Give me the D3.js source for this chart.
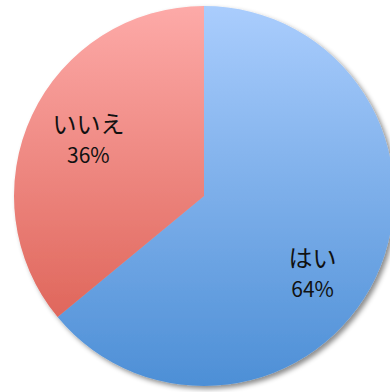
<!DOCTYPE html>
<html>
<head>
<meta charset="utf-8">
<style>
  body { margin: 0; background: #fff; }
  svg { display: block; }
  text { font-family: "Noto Sans CJK JP", "Noto Sans", sans-serif; fill: #111; }
</style>
<script src="https://d3js.org/d3.v7.min.js"></script>
</head>
<body>
<svg id="chart" width="390" height="392"></svg>
<script>
  // data
  var categories = ["はい", "いいえ"]
  var values = [64, 36]
  var topColors = ["#aacdfd", "#fdaaa8"]
  var bottomColors = ["#4d8fd6", "#d9584b"]

  var svg = d3.select("#chart"),
      cx = 204, cy = 196, r = 190

  var defs = svg.append("defs")

  // soft shadow under the pie
  var f = defs.append("filter")
              .attr("id", "shadow")
              .attr("x", "-10%").attr("y", "-10%")
              .attr("width", "120%").attr("height", "120%")
  f.append("feDropShadow")
   .attr("dx", 3).attr("dy", 3)
   .attr("stdDeviation", 2.5)
   .attr("flood-color", "#000")
   .attr("flood-opacity", 0.45)

  // vertical gradient per slice, spanning the whole pie
  categories.forEach(function(c, i){
    var g = defs.append("linearGradient")
                .attr("id", "grad" + i)
                .attr("gradientUnits", "userSpaceOnUse")
                .attr("x1", 0).attr("x2", 0)
                .attr("y1", -r).attr("y2", r)
    g.append("stop").attr("offset", "0%").attr("stop-color", topColors[i])
    g.append("stop").attr("offset", "100%").attr("stop-color", bottomColors[i])
  })

  var pie = d3.pie().sort(null).value(function(d){ return d })
  var arcs = pie(values)
  var total = d3.sum(values)

  var arc = d3.arc().innerRadius(0).outerRadius(r)
  var labelArc = d3.arc().innerRadius(r * 0.69).outerRadius(r * 0.69)

  var g = svg.append("g")
             .attr("transform", "translate(" + cx + "," + cy + ")")

  g.append("g")
   .attr("filter", "url(#shadow)")
   .selectAll("path")
   .data(arcs)
   .join("path")
   .attr("d", arc)
   .attr("fill", function(d, i){ return "url(#grad" + i + ")" })

  // label nudges (Excel best-fit placement)
  var nudge = [[-10, 20], [3, -2]]

  var labels = g.selectAll("text.lbl")
                .data(arcs)
                .join("text")
                .attr("class", "lbl")
                .attr("text-anchor", "middle")
                .attr("transform", function(d, i){
                  var p = labelArc.centroid(d)
                  return "translate(" + (p[0] + nudge[i][0]) + "," + (p[1] + nudge[i][1]) + ")"
                })
  labels.append("tspan")
        .attr("x", 0).attr("y", -5)
        .attr("font-size", 24)
        .text(function(d, i){ return categories[i] })
  labels.append("tspan")
        .attr("x", 0).attr("y", 25)
        .attr("font-size", 21)
        .text(function(d){ return Math.round(d.value / total * 100) + "%" })
</script>
</body>
</html>
